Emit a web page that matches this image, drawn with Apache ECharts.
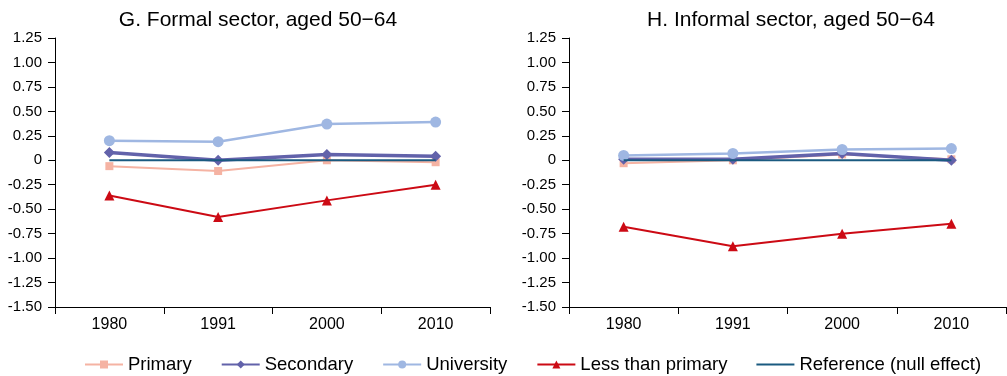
<!DOCTYPE html>
<html><head><meta charset="utf-8">
<script src="https://cdn.jsdelivr.net/npm/echarts@6/dist/echarts.min.js"></script>
<style>html,body{margin:0;padding:0;background:#fff}#c{width:1007px;height:376px}</style>
</head><body><div id="c"></div>
<script>
const years = ['1980','1991','2000','2010'];
const titles = ['G. Formal sector, aged 50\u221264','H. Informal sector, aged 50\u221264'];
const seriesNames = ['Primary','Secondary','University','Less than primary','Reference (null effect)'];
// Panel G (formal)
const formalPrimary = [-0.06,-0.11,0.00,-0.02];
const formalSecondary = [0.08,0.00,0.06,0.04];
const formalUniversity = [0.20,0.19,0.37,0.39];
const formalLess = [-0.36,-0.58,-0.41,-0.25];
// Panel H (informal)
const informalPrimary = [-0.03,0.00,0.06,0.01];
const informalSecondary = [0.01,0.01,0.07,0.00];
const informalUniversity = [0.05,0.07,0.11,0.12];
const informalLess = [-0.68,-0.88,-0.75,-0.65];
const reference = [0,0,0,0];

const colors = ['#F5B3A3','#6262AA','#9FB7E2','#CC0A14','#1A5A80'];
const symbols = ['rect','diamond','circle','triangle','none'];
const symSizes = [8,11,11,10,0];
const widths = [2,3.5,2.5,2,2];
const font = 'Liberation Sans, Arial, sans-serif';

const chart = echarts.init(document.getElementById('c'));
const grids = [{left:55,right:517,top:38,height:269},{left:569,right:1,top:38,height:269}];
function yAxis(i){return {type:'value',gridIndex:i,min:-1.5,max:1.25,interval:0.25,
  axisLine:{show:true,lineStyle:{color:'#000',width:1}},
  axisTick:{show:true,length:7,lineStyle:{color:'#000'}},
  splitLine:{show:false},
  axisLabel:{color:'#000',fontFamily:font,fontSize:15,margin:13,
    formatter:v=>Math.abs(v)<1e-9?'0':v.toFixed(2)}};}
function xAxis(i){return {type:'category',gridIndex:i,data:years,boundaryGap:true,
  axisLine:{onZero:false,lineStyle:{color:'#000',width:1}},
  axisTick:{show:true,length:7,lineStyle:{color:'#000'}},
  axisLabel:{color:'#000',fontFamily:font,fontSize:16,margin:10}};}
const panelData = [[formalPrimary,formalSecondary,formalUniversity,formalLess,reference],
                   [informalPrimary,informalSecondary,informalUniversity,informalLess,reference]];
const series=[];
panelData.forEach((arrs,p)=>{arrs.forEach((d,k)=>{
  series.push({name:seriesNames[k],type:'line',xAxisIndex:p,yAxisIndex:p,data:d,
    symbol:symbols[k],symbolSize:symSizes[k],showSymbol:k<4,
    lineStyle:{color:colors[k],width:widths[k]},itemStyle:{color:colors[k]},
    z:k===4?5:2+k,animation:false});
});});
chart.setOption({
  animation:false,
  title:[{text:titles[0],left:253,top:5,textAlign:'center',textStyle:{fontFamily:font,fontSize:21,fontWeight:'normal',color:'#000'}},
         {text:titles[1],left:786,top:5,textAlign:'center',textStyle:{fontFamily:font,fontSize:21,fontWeight:'normal',color:'#000'}}],
  grid:grids,
  xAxis:[xAxis(0),xAxis(1)],
  yAxis:[yAxis(0),yAxis(1)],
  legend:{top:355,left:84,padding:0,itemWidth:38,itemHeight:10,itemGap:29,
    textStyle:{fontFamily:font,fontSize:18.5,color:'#000'},
    data:seriesNames.map((n,k)=>({name:n,icon:k===4?'path://M0,4 L36,4 L36,6 L0,6 Z':undefined}))},
  series:series
});
</script></body></html>
